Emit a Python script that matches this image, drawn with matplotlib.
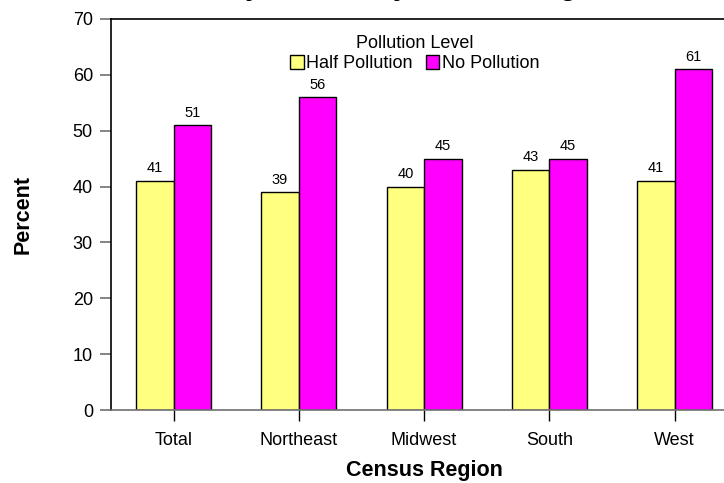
import matplotlib
matplotlib.use("Agg")
import matplotlib.pyplot as plt
import numpy as np

plt.rcParams['font.family'] = ['Liberation Sans', 'DejaVu Sans']

regions = ["Total", "Northeast", "Midwest", "South", "West"]
half_pollution = [41, 39, 40, 43, 41]
no_pollution = [51, 56, 45, 45, 61]
series_names = ["Half Pollution", "No Pollution"]
yticks = [0, 10, 20, 30, 40, 50, 60, 70]

fig = plt.figure(figsize=(7.24, 4.83), dpi=100)
ax = fig.add_axes([0.1533, 0.1511, 0.865, 0.8096])

x = np.arange(len(regions))
w = 0.3
b1 = ax.bar(x - w / 2, half_pollution, w, color="#FFFF80", edgecolor="black",
            linewidth=1.0, label=series_names[0])
b2 = ax.bar(x + w / 2, no_pollution, w, color="#FF00FF", edgecolor="black",
            linewidth=1.0, label=series_names[1])

for bars, vals in ((b1, half_pollution), (b2, no_pollution)):
    for r, v in zip(bars, vals):
        ax.annotate(f"{v}", (r.get_x() + r.get_width() / 2, v),
                    xytext=(0, 4), textcoords="offset points",
                    ha="center", va="bottom", fontsize=10.5)

ax.set_xlim(-0.5, 4.5)
ax.set_ylim(0, 70)
ax.set_yticks(yticks)
ax.set_xticks(x)
ax.set_xticklabels(regions, fontsize=13)
ax.tick_params(axis="y", labelsize=13, length=8, color="#707070", width=1.2,
               pad=5)
ax.tick_params(axis="x", length=8, width=1, color="black", pad=8)
ax.spines["left"].set_linewidth(1.2)
ax.spines["top"].set_linewidth(1.2)
ax.spines["bottom"].set_color("#707070")
ax.spines["bottom"].set_linewidth(1.2)
ax.spines["right"].set_visible(False)

ax.set_xlabel("Census Region", fontsize=15.5, fontweight="bold", labelpad=8)
ax.set_ylabel("Percent", fontsize=15.5, fontweight="bold", labelpad=28)

leg = ax.legend(title="Pollution Level", ncol=2, frameon=False, fontsize=13,
                title_fontsize=13, loc="upper center",
                bbox_to_anchor=(0.485, 0.992), handlelength=0.75,
                handleheight=0.75, handletextpad=0.15, columnspacing=0.7,
                borderaxespad=0.3, labelspacing=0.2)

fig.text(393 / 724, 1.0 + 4.5 / 483, "Survey Results by Census Region",
         ha="center", va="baseline", fontsize=20, fontweight="bold")

fig.savefig("out.png", dpi=100)
